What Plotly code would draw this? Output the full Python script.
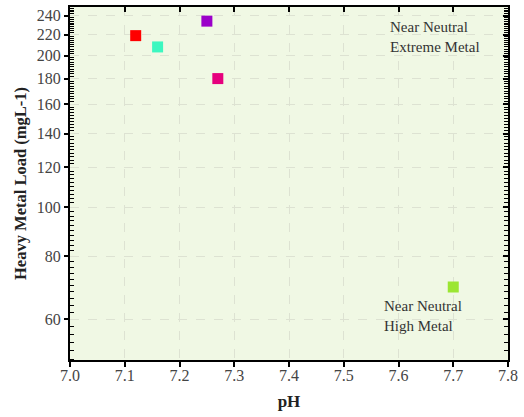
import plotly.graph_objects as go
import math

ph = [7.12, 7.16, 7.25, 7.27, 7.70]
load = [219, 208, 234, 180, 69.5]
colors = ["#ff0000", "#3cf7c0", "#9b00c9", "#e6007e", "#9be632"]

y_major = [60, 80, 100, 120, 140, 160, 180, 200, 220, 240]
y_minor = [v for v in range(50, 251, 2) if v not in y_major]
x_ticks = [7.0, 7.1, 7.2, 7.3, 7.4, 7.5, 7.6, 7.7, 7.8]

FONT = "Liberation Serif"
yr = [math.log10(49.8), math.log10(249.6)]
xr = [7.0, 7.8]

fig = go.Figure()
fig.add_trace(go.Scatter(
    x=ph, y=load, mode="markers",
    marker=dict(symbol="square", size=11, color=colors, line=dict(width=0)),
    showlegend=False,
))
fig.add_trace(go.Scatter(x=[None], y=[None], xaxis="x2", yaxis="y2", showlegend=False))

fig.update_layout(
    width=524, height=417,
    margin=dict(l=70, r=16, t=7, b=57),
    paper_bgcolor="white",
    plot_bgcolor="#f0f8e4",
    font=dict(family=FONT, size=16, color="#444"),
    xaxis=dict(
        range=xr, tickvals=x_ticks, ticktext=[f"{v:.1f}" for v in x_ticks],
        ticks="outside", ticklen=5, tickwidth=1.5, tickcolor="black",
        ticklabelstandoff=-5,
        showline=True, linecolor="black", linewidth=2,
        showgrid=True, gridcolor="#dde2d2", griddash="dash", gridwidth=1,
        zeroline=False,
        title=dict(text="<b>pH</b>", font=dict(family=FONT, size=17, color="#222"), standoff=12),
    ),
    yaxis=dict(
        type="log", range=yr, tickvals=y_major, ticktext=[str(v) for v in y_major],
        ticks="outside", ticklen=4, tickwidth=1.5, tickcolor="black",
        showline=True, linecolor="black", linewidth=2,
        showgrid=True, gridcolor="#dde2d2", griddash="dash", gridwidth=1,
        zeroline=False,
        minor=dict(tickvals=y_minor, ticks="inside", ticklen=4, tickcolor="black", tickwidth=1, showgrid=False),
        title=dict(text="<b>Heavy Metal Load (mgL-1)</b>", font=dict(family=FONT, size=16.5, color="#222"), standoff=6),
    ),
    xaxis2=dict(
        overlaying="x", side="top", range=xr, tickvals=x_ticks, showticklabels=False,
        ticks="inside", ticklen=5, tickwidth=1.5, tickcolor="black",
        showline=True, linecolor="black", linewidth=2, showgrid=False, zeroline=False,
    ),
    yaxis2=dict(
        overlaying="y", side="right", type="log", range=yr, tickvals=y_major, showticklabels=False,
        ticks="inside", ticklen=5, tickwidth=1.5, tickcolor="black",
        showline=True, linecolor="black", linewidth=2, showgrid=False, zeroline=False,
        minor=dict(tickvals=y_minor, ticks="inside", ticklen=4, tickcolor="black", tickwidth=1, showgrid=False),
    ),
    annotations=[
        dict(text="Near Neutral<br>Extreme Metal", x=7.581, y=0.916, xref="x", yref="paper",
             xanchor="left", yanchor="middle", align="left", showarrow=False,
             font=dict(family=FONT, size=15, color="#333")),
        dict(text="Near Neutral<br>High Metal", x=7.57, y=0.125, xref="x", yref="paper",
             xanchor="left", yanchor="middle", align="left", showarrow=False,
             font=dict(family=FONT, size=15, color="#333")),
    ],
)

fig.write_html("out.html")
